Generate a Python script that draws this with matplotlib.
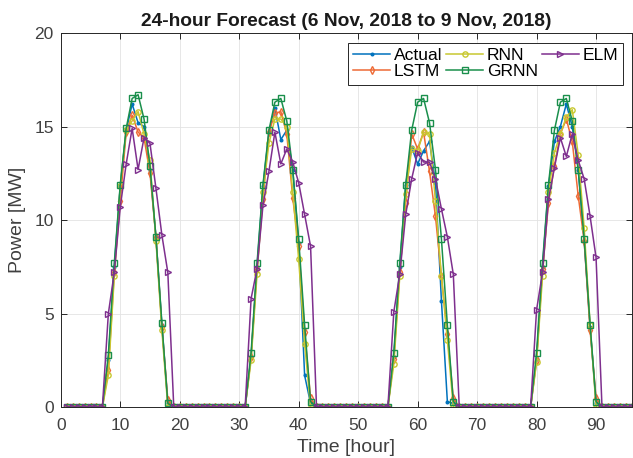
import numpy as np
import matplotlib
matplotlib.use("Agg")
import matplotlib.pyplot as plt

plt.rcParams["font.family"] = ["Liberation Sans", "DejaVu Sans"]

# Hourly power over four days (6-9 Nov 2018), one row per day
hours = np.arange(1, 97)

actual = [
    0, 0, 0, 0, 0, 0, 0, 2.5, 7.5, 11.8, 14.8, 16.2, 15.2, 15.0, 12.7, 9.1, 4.4, 0.2, 0, 0, 0, 0, 0, 0,
    0, 0, 0, 0, 0, 0, 0, 2.7, 7.5, 11.8, 14.7, 16.0, 14.3, 14.8, 12.7, 8.8, 1.7, 0.2, 0, 0, 0, 0, 0, 0,
    0, 0, 0, 0, 0, 0, 0, 2.7, 7.5, 11.9, 13.9, 13.0, 13.7, 14.2, 12.0, 5.7, 0.3, 0.2, 0, 0, 0, 0, 0, 0,
    0, 0, 0, 0, 0, 0, 0, 2.6, 7.5, 11.8, 14.2, 15.0, 16.2, 15.0, 12.7, 8.9, 4.3, 0.2, 0, 0, 0, 0, 0, 0,
]
lstm = [
    0, 0, 0, 0, 0, 0, 0, 2.0, 7.2, 11.0, 14.7, 15.6, 14.7, 14.4, 12.5, 9.1, 4.3, 0.4, 0, 0, 0, 0, 0, 0,
    0, 0, 0, 0, 0, 0, 0, 2.7, 7.4, 11.1, 14.7, 15.7, 15.8, 14.6, 11.2, 8.6, 4.0, 0.5, 0, 0, 0, 0, 0, 0,
    0, 0, 0, 0, 0, 0, 0, 2.6, 7.2, 10.9, 14.6, 13.8, 14.7, 12.6, 10.2, 7.0, 3.9, 0.5, 0, 0, 0, 0, 0, 0,
    0, 0, 0, 0, 0, 0, 0, 2.5, 7.4, 10.9, 12.9, 14.6, 15.4, 14.2, 11.3, 8.9, 4.1, 0.5, 0, 0, 0, 0, 0, 0,
]
rnn = [
    0, 0, 0, 0, 0, 0, 0, 1.7, 7.0, 11.8, 14.8, 15.3, 15.8, 14.6, 13.2, 8.9, 4.1, 0.0, 0, 0, 0, 0, 0, 0,
    0, 0, 0, 0, 0, 0, 0, 2.5, 7.1, 11.5, 14.1, 15.4, 15.4, 15.0, 11.5, 7.9, 3.4, 0.0, 0, 0, 0, 0, 0, 0,
    0, 0, 0, 0, 0, 0, 0, 2.3, 7.0, 11.4, 13.8, 13.7, 14.7, 14.6, 11.0, 7.0, 3.6, 0.0, 0, 0, 0, 0, 0, 0,
    0, 0, 0, 0, 0, 0, 0, 2.4, 7.0, 11.5, 13.6, 14.6, 15.5, 15.9, 13.5, 9.6, 4.4, 0.0, 0, 0, 0, 0, 0, 0,
]
grnn = [
    0, 0, 0, 0, 0, 0, 0, 2.8, 7.7, 11.9, 14.9, 16.5, 16.7, 15.4, 12.9, 9.1, 4.5, 0.2, 0, 0, 0, 0, 0, 0,
    0, 0, 0, 0, 0, 0, 0, 2.9, 7.7, 11.9, 14.8, 16.3, 16.5, 15.3, 12.7, 9.0, 4.4, 0.3, 0, 0, 0, 0, 0, 0,
    0, 0, 0, 0, 0, 0, 0, 2.9, 7.7, 11.9, 14.8, 16.3, 16.5, 15.2, 12.7, 9.0, 4.4, 0.3, 0, 0, 0, 0, 0, 0,
    0, 0, 0, 0, 0, 0, 0, 2.9, 7.7, 11.9, 14.8, 16.3, 16.5, 15.3, 12.7, 9.0, 4.4, 0.3, 0, 0, 0, 0, 0, 0,
]
elm = [
    0, 0, 0, 0, 0, 0, 0, 5.0, 7.2, 10.7, 13.0, 14.9, 12.7, 14.4, 14.1, 11.7, 9.2, 7.2, 0, 0, 0, 0, 0, 0,
    0, 0, 0, 0, 0, 0, 0, 5.8, 7.4, 10.8, 12.6, 14.7, 13.0, 13.8, 13.1, 12.0, 10.3, 8.6, 0, 0, 0, 0, 0, 0,
    0, 0, 0, 0, 0, 0, 0, 5.1, 7.1, 10.3, 12.2, 13.6, 13.1, 13.1, 12.2, 10.6, 9.1, 7.1, 0, 0, 0, 0, 0, 0,
    0, 0, 0, 0, 0, 0, 0, 5.2, 7.2, 11.1, 12.8, 14.4, 13.4, 14.6, 13.2, 12.2, 10.2, 8.0, 0, 0, 0, 0, 0, 0,
]

series = [
    ("Actual", actual, "#0072BD", "."),
    ("LSTM", lstm, "#EE6A35", "d"),
    ("RNN", rnn, "#C8C830", "o"),
    ("GRNN", grnn, "#1A8F4C", "s"),
    ("ELM", elm, "#7E2F8E", ">"),
]

fig = plt.figure(figsize=(6.33, 4.58), dpi=100)
ax = fig.add_axes([0.096, 0.111, 0.902, 0.817])

for name, vals, color, marker in series:
    if marker == ".":
        ax.plot(hours, vals, color=color, lw=1.1, marker=marker, ms=3.8, label=name)
    else:
        ax.plot(hours, vals, color=color, lw=1.1, marker=marker, ms=3.8,
                mfc="none", mew=1.0, label=name)

ax.set_xlim(0, 96)
ax.set_ylim(0, 20)
ax.set_xticks(np.arange(0, 100, 10))
ax.set_yticks([0, 5, 10, 15, 20])
ax.grid(True, color="#E3E3E3", lw=0.6)
ax.set_axisbelow(True)

dark = "#262626"
for sp in ax.spines.values():
    sp.set_color(dark)
    sp.set_linewidth(0.7)
ax.tick_params(direction="in", top=True, right=True, length=4, width=0.7,
               colors=dark, labelsize=12.5)
ax.tick_params(axis="x", pad=8)
ax.tick_params(axis="y", pad=5)
for lbl in ax.get_xticklabels() + ax.get_yticklabels():
    lbl.set_color("#404040")

ax.set_title("24-hour Forecast (6 Nov, 2018 to 9 Nov, 2018)",
             fontsize=13.8, fontweight="bold", color="#1A1A1A", pad=5)
ax.set_xlabel("Time [hour]", fontsize=14, color="#404040", labelpad=4)
ax.set_ylabel("Power [MW]", fontsize=14, color="#404040", labelpad=6)

leg = ax.legend(loc="upper right", ncol=3, fontsize=12.6, frameon=True,
                fancybox=False, edgecolor=dark, framealpha=1,
                handlelength=2.1, handletextpad=0.2, columnspacing=0.25,
                labelspacing=0.05, borderpad=0.3, borderaxespad=0,
                bbox_to_anchor=(0.985, 0.974))
leg.get_frame().set_linewidth(0.7)

fig.savefig("out.png", dpi=100)
